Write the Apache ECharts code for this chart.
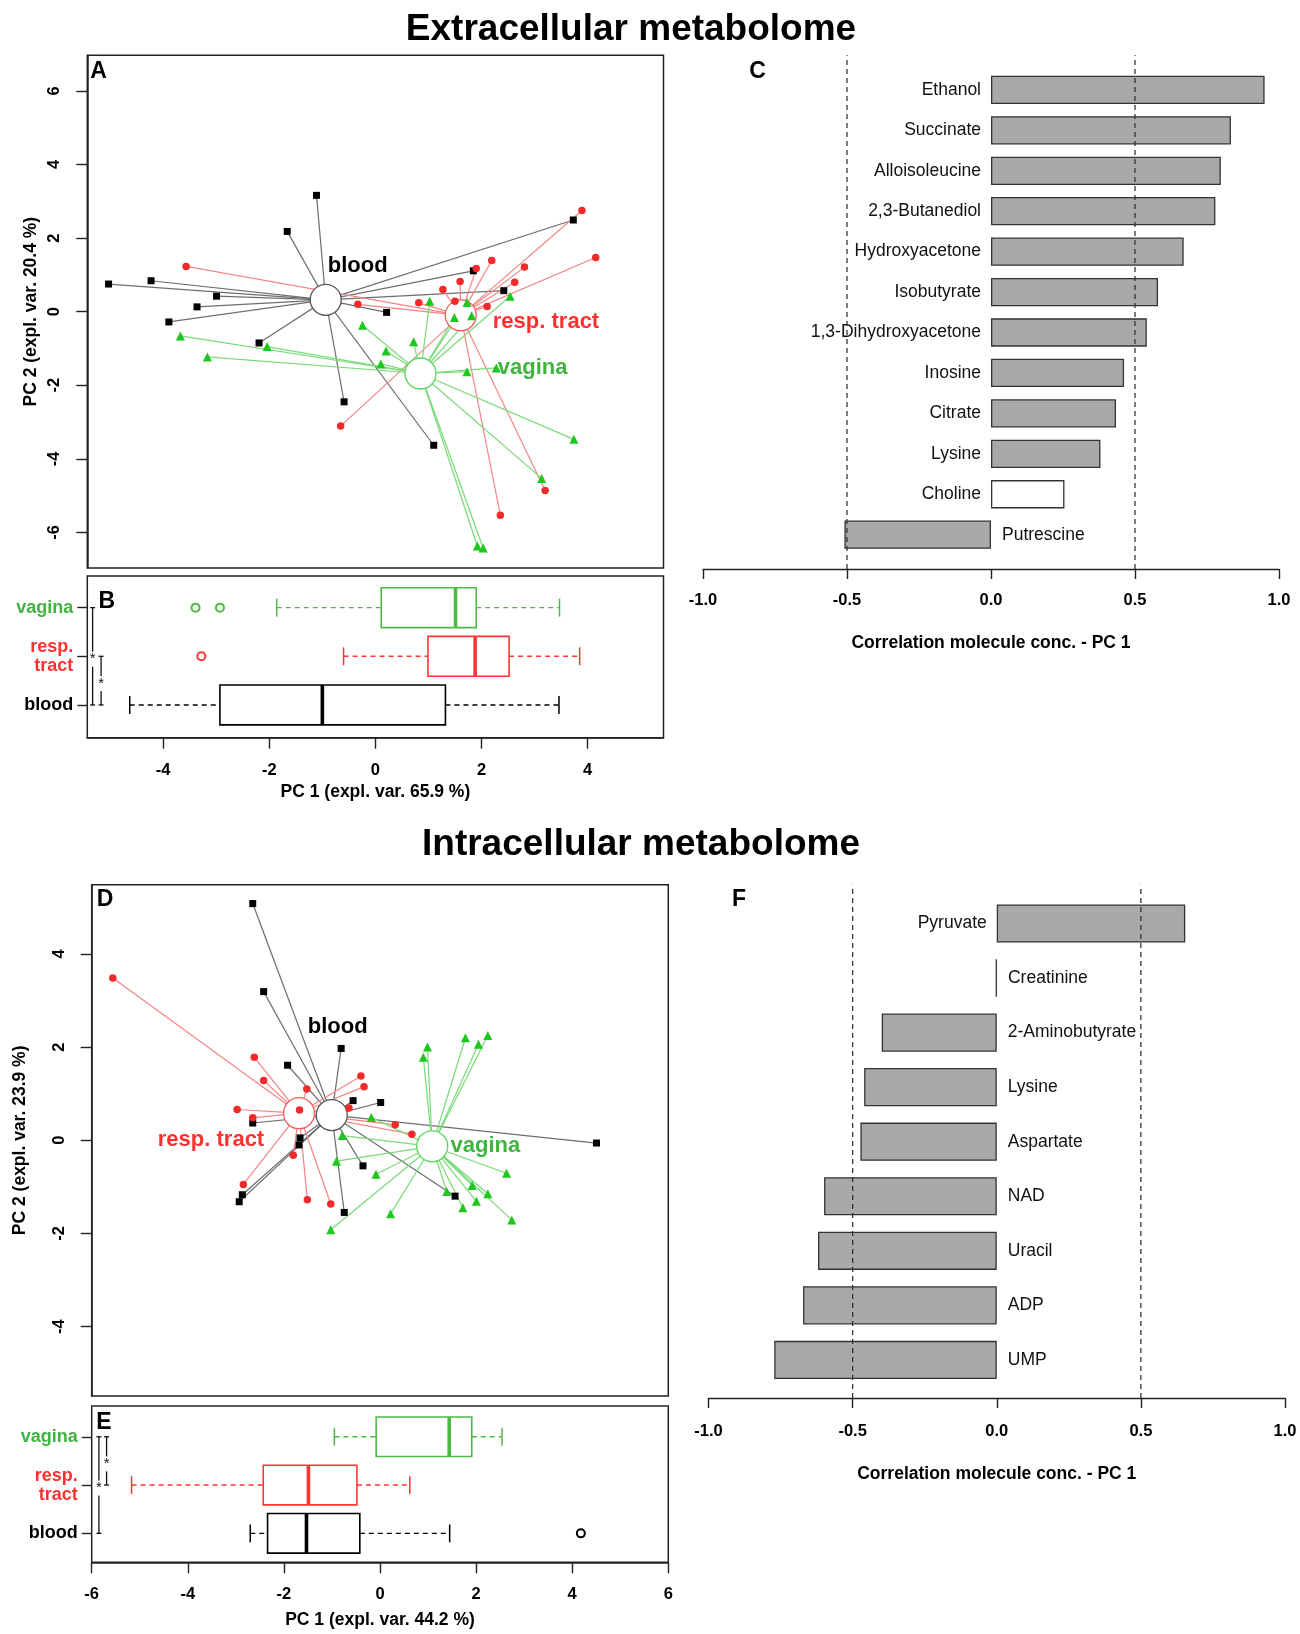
<!DOCTYPE html>
<html><head><meta charset="utf-8">
<script src="https://cdn.jsdelivr.net/npm/echarts@6/dist/echarts.min.js"></script>
<style>html,body{margin:0;padding:0;background:#fff}#c{width:1300px;height:1634px}</style>
</head><body><div id="c"></div>
<script>
// ---------- DATA ----------
const groupNames = ['blood', 'resp. tract', 'vagina'];

// Panel A: extracellular PCA scores [PC1, PC2]
const bloodA = [[-1.01,3.16],[-1.52,2.18],[3.46,2.49],[1.72,1.11],[2.25,0.57],[-4.63,0.75],[-3.89,0.84],[-2.75,0.42],[-3.09,0.13],[-3.58,-0.28],[0.21,-0.02],[-2.01,-0.85],[-0.53,-2.45],[1.03,-3.63]];
const respA = [[3.61,2.75],[3.85,1.47],[-3.28,1.23],[2.04,1.39],[1.77,1.17],[2.61,1.21],[1.49,0.82],[2.44,0.80],[1.19,0.60],[1.40,0.28],[0.77,0.24],[-0.29,0.20],[1.96,0.14],[-0.59,-3.11],[2.19,-5.53],[2.97,-4.86]];
const vaginaA = [[-3.38,-0.66],[-2.91,-1.23],[-1.87,-0.95],[-0.21,-0.37],[0.20,-1.07],[0.11,-1.42],[0.68,-0.82],[0.96,0.28],[1.39,-0.16],[1.61,0.25],[1.69,-0.11],[2.36,0.42],[1.61,-1.63],[2.12,-1.53],[3.47,-3.47],[2.91,-4.53],[1.79,-6.37],[1.89,-6.42]];
const centroidsA = [[-0.85,0.32],[1.50,-0.10],[0.80,-1.68]];

// Panel B: PC1 boxplot stats [min, Q1, median, Q3, max] for blood, resp. tract, vagina
const boxB = [[-4.63,-2.93,-1.00,1.32,3.46],[-0.60,0.99,1.88,2.52,3.85],[-1.86,0.11,1.51,1.90,3.47]];
const outliersB = [[], [-3.28], [-3.39,-2.93]];
const bracketsB = [[-5.33,2,0,1],[-5.17,1,0,0.5]]; // x, from, to, star position

// Panel C: correlation with PC1 (extracellular)
const extraNames = ['Ethanol','Succinate','Alloisoleucine','2,3-Butanediol','Hydroxyacetone','Isobutyrate','1,3-Dihydroxyacetone','Inosine','Citrate','Lysine','Choline','Putrescine'];
const extraCorr = [0.950,0.833,0.798,0.779,0.669,0.580,0.541,0.462,0.434,0.380,0.255,-0.509];
const extraSignificant = [true,true,true,true,true,true,true,true,true,true,false,true];

// Panel D: intracellular PCA scores
const bloodD = [[-2.46,5.08],[-2.25,3.19],[-0.76,1.97],[-1.79,1.61],[-0.53,0.85],[0.00,0.81],[-2.46,0.37],[-1.55,0.05],[-1.57,-0.10],[-0.34,-0.55],[1.43,-1.20],[-2.66,-1.17],[-2.72,-1.32],[-0.70,-1.55],[4.15,-0.06]];
const respD = [[-5.15,3.48],[-2.43,1.78],[-2.25,1.28],[-1.42,1.10],[-0.38,1.38],[-0.32,1.15],[-2.76,0.66],[-2.46,0.48],[-1.56,0.65],[-0.61,0.69],[0.28,0.33],[0.60,0.13],[-1.68,-0.32],[-2.64,-0.95],[-1.41,-1.28],[-0.96,-1.37]];
const vaginaD = [[0.90,2.00],[0.82,1.78],[1.63,2.20],[1.88,2.06],[2.06,2.25],[-0.18,0.49],[-0.74,0.10],[-0.85,-0.45],[-0.09,-0.73],[0.19,-1.58],[-0.96,-1.92],[1.27,-1.10],[1.58,-1.45],[1.76,-0.97],[1.84,-1.31],[2.06,-1.15],[2.42,-0.71],[2.52,-1.71]];
const centroidsD = [[-0.94,0.54],[-1.57,0.58],[0.99,-0.13]];

// Panel E
const boxE = [[-2.70,-2.34,-1.53,-0.42,1.45],[-5.17,-2.43,-1.49,-0.48,0.62],[-0.95,-0.08,1.44,1.91,2.54]];
const outliersE = [[4.18], [], []];
const bracketsE = [[-5.85,2,0,1],[-5.69,2,1,1.5]];

// Panel F
const intraNames = ['Pyruvate','Creatinine','2-Aminobutyrate','Lysine','Aspartate','NAD','Uracil','ADP','UMP'];
const intraCorr = [0.654,-0.003,-0.399,-0.460,-0.473,-0.599,-0.620,-0.672,-0.772];
const intraSignificant = [true,true,true,true,true,true,true,true,true];

const corrThresholds = [-0.5, 0.5];
const pcTicksA = [-6,-4,-2,0,2,4,6];
const pcTicksB = [-4,-2,0,2,4];
const pcTicksD = [-4,-2,0,2,4];
const pcTicksE = [-6,-4,-2,0,2,4,6];

// ---------- STYLE ----------
const FONT = "'Liberation Sans', Arial, Helvetica, sans-serif";
const AX = '#222';
const ptColor = ['#000000','#F22A2A','#1BC81B'];
const lnColor = ['#6E6E6E','#F48585','#78DA78'];
const ringColor = ['#555555','#F25A5A','#5AD85A'];
const boxColor = ['#000000','#FF3535','#4DBA45'];
const txtColor = ['#000000','#FF3030','#3FB53F'];
const symbols = ['rect','circle','triangle'];
const symSizes = [7,7.5,9];

const grids = [], xAxes = [], yAxes = [], series = [];
function addGrid(g, xa, ya) {
  const i = grids.length;
  grids.push(Object.assign({containLabel:false, show:false}, g));
  xAxes.push(Object.assign({gridIndex:i}, xa));
  yAxes.push(Object.assign({gridIndex:i}, ya));
  return i;
}
function hiddenVal(min, max) { return {type:'value', min, max, show:false, splitLine:{show:false}, axisLine:{onZero:false}}; }
const frame = {show:true, borderColor:AX, borderWidth:1.5, backgroundColor:'transparent'};
const axLine = {show:true, onZero:false, lineStyle:{color:AX, width:1.5}};

function pcYAxis(min, max, ticks, name, nameGap) {
  return {type:'value', min, max, position:'left',
    name, nameLocation:'middle', nameRotate:90, nameGap,
    nameTextStyle:{fontFamily:FONT, fontWeight:'bold', fontSize:17.5, color:'#000'},
    axisLine:axLine, splitLine:{show:false},
    axisTick:{show:true, inside:false, length:11, customValues:ticks, lineStyle:{color:AX, width:1.4}},
    axisLabel:{show:true, rotate:90, margin:24, customValues:ticks, fontFamily:FONT, fontWeight:'bold', fontSize:16.5, color:'#000',
      formatter: v => String(v)}};
}
function pcXAxis(min, max, ticks, name, margin, nameGap) {
  return {type:'value', min, max, position:'bottom',
    name, nameLocation:'middle', nameGap,
    nameTextStyle:{fontFamily:FONT, fontWeight:'bold', fontSize:17.5, color:'#000'},
    axisLine:axLine, splitLine:{show:false},
    axisTick:{show:true, inside:false, length:11, customValues:ticks, lineStyle:{color:AX, width:1.4}},
    axisLabel:{show:true, margin, customValues:ticks, fontFamily:FONT, fontWeight:'bold', fontSize:16.5, color:'#000',
      formatter: v => String(v)}};
}
function catAxis() {
  return {type:'category', data:groupNames, position:'left',
    axisLine:{show:false, onZero:false}, splitLine:{show:false},
    axisTick:{show:true, alignWithLabel:true, inside:false, length:10, lineStyle:{color:AX, width:1.4}},
    axisLabel:{margin:14, fontFamily:FONT, fontWeight:'bold', fontSize:18, lineHeight:19,
      color:(v, i) => txtColor[i], formatter: v => v.replace(' ', '\n')}};
}
function corrXAxis(name, margin, nameGap) {
  return {type:'value', min:-1, max:1, interval:0.5, position:'bottom',
    name, nameLocation:'middle', nameGap,
    nameTextStyle:{fontFamily:FONT, fontWeight:'bold', fontSize:17.5, color:'#000'},
    axisLine:{show:true, onZero:false, lineStyle:{color:AX, width:1.4}}, splitLine:{show:false},
    axisTick:{show:true, inside:false, length:10, lineStyle:{color:AX, width:1.4}},
    axisLabel:{margin, fontFamily:FONT, fontWeight:'bold', fontSize:16.5, color:'#000', formatter: v => v.toFixed(1)}};
}

function addScatterPanel(gi, groupsData, centroids) {
  const seg = [];
  groupsData.forEach((arr, g) => arr.forEach(p => seg.push([p[0], p[1], g])));
  series.push({type:'custom', xAxisIndex:gi, yAxisIndex:gi, data:seg, encode:{x:0, y:1}, z:1, silent:true,
    renderItem:(params, api) => {
      const g = api.value(2);
      const p = api.coord([api.value(0), api.value(1)]);
      const c = api.coord(centroids[g]);
      return {type:'line', shape:{x1:p[0], y1:p[1], x2:c[0], y2:c[1]}, style:{stroke:lnColor[g], lineWidth:1.2}};
    }});
  series.push({type:'scatter', xAxisIndex:gi, yAxisIndex:gi, z:2, silent:true, symbol:'circle', symbolSize:31,
    data: centroids.map((c, g) => ({value:c, itemStyle:{color:'#fff', opacity:1, borderColor:ringColor[g], borderWidth:1.3}}))});
  groupsData.forEach((arr, g) => {
    series.push({type:'scatter', xAxisIndex:gi, yAxisIndex:gi, z:3, silent:true, symbol:symbols[g], symbolSize:symSizes[g],
      itemStyle:{color:ptColor[g], opacity:1}, data:arr});
  });
}

function addBoxPanel(gi, stats, outliers, brackets) {
  series.push({type:'custom', xAxisIndex:gi, yAxisIndex:gi, silent:true, z:2,
    data: stats.map((s, i) => [i].concat(s)), encode:{x:[1,2,3,4,5], y:0},
    renderItem:(params, api) => {
      const cat = api.value(0);
      const yc = api.coord([0, cat])[1];
      const band = api.size([0, 1])[1];
      const h = band * 0.41, s = h * 0.45;
      const xs = [1,2,3,4,5].map(k => api.coord([api.value(k), cat])[0]);
      const c = boxColor[cat];
      const dashed = {stroke:c, lineWidth:1.4, lineDash:[5,4]};
      const solid = {stroke:c, lineWidth:1.5};
      return {type:'group', children:[
        {type:'line', shape:{x1:xs[0], y1:yc, x2:xs[1], y2:yc}, style:dashed},
        {type:'line', shape:{x1:xs[3], y1:yc, x2:xs[4], y2:yc}, style:dashed},
        {type:'line', shape:{x1:xs[0], y1:yc-s, x2:xs[0], y2:yc+s}, style:solid},
        {type:'line', shape:{x1:xs[4], y1:yc-s, x2:xs[4], y2:yc+s}, style:solid},
        {type:'rect', shape:{x:xs[1], y:yc-h, width:xs[3]-xs[1], height:2*h}, style:{stroke:c, fill:'rgba(255,255,255,0)', lineWidth:1.6}},
        {type:'line', shape:{x1:xs[2], y1:yc-h, x2:xs[2], y2:yc+h}, style:{stroke:c, lineWidth:3.6}}
      ]};
    }});
  outliers.forEach((arr, g) => {
    if (!arr.length) return;
    series.push({type:'scatter', xAxisIndex:gi, yAxisIndex:gi, z:3, silent:true, symbol:'emptyCircle', symbolSize:8,
      itemStyle:{color:boxColor[g], borderColor:boxColor[g], borderWidth:1.4, opacity:1}, data:arr.map(v => [v, g])});
  });
  series.push({type:'custom', xAxisIndex:gi, yAxisIndex:gi, silent:true, z:4,
    data:brackets, encode:{x:0, y:1},
    renderItem:(params, api) => {
      const x = api.coord([api.value(0), 0])[0];
      const y0 = api.coord([0, 0])[1], y1 = api.coord([0, 1])[1];
      const py = c => y0 + c * (y1 - y0);
      const ya = py(api.value(1)), yb = py(api.value(2)), ys = py(api.value(3));
      const st = {stroke:'#111', lineWidth:1.3};
      return {type:'group', children:[
        {type:'line', shape:{x1:x, y1:ya, x2:x, y2:yb}, style:st},
        {type:'line', shape:{x1:x-2.5, y1:ya, x2:x+2.5, y2:ya}, style:st},
        {type:'line', shape:{x1:x-2.5, y1:yb, x2:x+2.5, y2:yb}, style:st},
        {type:'text', x:x, y:ys+3, style:{text:'*', fill:'#111', font:'15px ' + FONT, align:'center', verticalAlign:'middle', textAlign:'center', textVerticalAlign:'middle', backgroundColor:'#fff'}}
      ]};
    }});
}

function addBarPanel(giBars, giLines, values, significant) {
  series.push({type:'bar', xAxisIndex:giBars, yAxisIndex:giBars, barWidth:'70%', silent:true, z:2,
    data: values.map((v, i) => ({value:v,
      itemStyle:{color: significant[i] ? '#A9A9A9' : '#FFFFFF', borderColor:'#333', borderWidth:1.3},
      label:{show:true, formatter:'{b}', position: v >= 0 ? 'left' : 'right', distance: v >= 0 ? 10 : 11,
        color:'#111', fontFamily:FONT, fontSize:17.5}}))});
  corrThresholds.forEach(t => {
    series.push({type:'line', xAxisIndex:giLines, yAxisIndex:giLines, silent:true, z:3, symbol:'none',
      lineStyle:{color:'#333', width:1.3, type:[5,4]}, data:[[t, 0], [t, 1]]});
  });
}

// ---------- LAYOUT ----------
// A
const gA = addGrid(Object.assign({left:87.3, top:55.3, width:576.2, height:512.7}, frame),
  hiddenVal(-5.0, 5.03), pcYAxis(-6.965, 6.965, pcTicksA, 'PC 2 (expl. var. 20.4 %)', 47));
addScatterPanel(gA, [bloodA, respA, vaginaA], centroidsA);
// B
addGrid(Object.assign({left:87.3, top:576, width:576.2, height:161.7}, frame),
  pcXAxis(-5.43, 5.43, pcTicksB, 'PC 1 (expl. var. 65.9 %)', 24, 45), hiddenVal(0, 1));
const gB = addGrid({left:87.3, top:583.3, width:576.2, height:146}, hiddenVal(-5.43, 5.43), catAxis());
addBoxPanel(gB, boxB, outliersB, bracketsB);
// C
const gCb = addGrid({left:703, top:69.7, width:576, height:485.2}, hiddenVal(-1, 1),
  {type:'category', data:extraNames, inverse:true, show:false, axisLine:{onZero:false}});
const gCl = addGrid({left:703, top:55.3, width:576, height:513.7},
  corrXAxis('Correlation molecule conc. - PC 1', 23, 65), hiddenVal(0, 1));
addBarPanel(gCb, gCl, extraCorr, extraSignificant);
// D
const gD = addGrid(Object.assign({left:91.7, top:884.7, width:576.6, height:511.3}, frame),
  hiddenVal(-5.556, 5.53), pcYAxis(-5.49, 5.485, pcTicksD, 'PC 2 (expl. var. 23.9 %)', 63));
addScatterPanel(gD, [bloodD, respD, vaginaD], centroidsD);
// E
addGrid(Object.assign({left:91.7, top:1406, width:576.6, height:156.3}, frame),
  pcXAxis(-6, 6, pcTicksE, 'PC 1 (expl. var. 44.2 %)', 23.5, 49), hiddenVal(0, 1));
const gE = addGrid({left:91.7, top:1412.6, width:576.6, height:144.9}, hiddenVal(-6, 6), catAxis());
addBoxPanel(gE, boxE, outliersE, bracketsE);
// F
const gFb = addGrid({left:708.5, top:896.2, width:576.5, height:491}, hiddenVal(-1, 1),
  {type:'category', data:intraNames, inverse:true, show:false, axisLine:{onZero:false}});
const gFl = addGrid({left:708.5, top:884.7, width:576.5, height:513.3},
  corrXAxis('Correlation molecule conc. - PC 1', 25, 67), hiddenVal(0, 1));
addBarPanel(gFb, gFl, intraCorr, intraSignificant);

function txt(x, y, text, font, fill) {
  return {type:'text', x, y, silent:true, z:100,
    style:{text, font, fill: fill || '#000', align:'center', verticalAlign:'middle', textAlign:'center', textVerticalAlign:'middle'}};
}
const titleFont = 'bold 37px ' + FONT;
const letterFont = 'bold 23px ' + FONT;
const grpFont = 'bold 22px ' + FONT;
const graphic = [
  txt(631, 29.5, 'Extracellular metabolome', titleFont),
  txt(641, 844.5, 'Intracellular metabolome', titleFont),
  txt(98.5, 71.7, 'A', letterFont), txt(106.7, 601.7, 'B', letterFont), txt(757.5, 71.7, 'C', letterFont),
  txt(105, 900, 'D', letterFont), txt(104, 1422.5, 'E', letterFont), txt(739, 900, 'F', letterFont),
  txt(357.7, 266, 'blood', grpFont, txtColor[0]),
  txt(546, 321.8, 'resp. tract', grpFont, txtColor[1]),
  txt(532.7, 367.5, 'vagina', grpFont, txtColor[2]),
  txt(337.7, 1026.9, 'blood', grpFont, txtColor[0]),
  txt(211, 1140.3, 'resp. tract', grpFont, txtColor[1]),
  txt(485.4, 1145.5, 'vagina', grpFont, txtColor[2])
];

const chart = echarts.init(document.getElementById('c'), null, {renderer:'canvas'});
chart.setOption({
  backgroundColor:'#ffffff', animation:false,
  textStyle:{fontFamily:FONT},
  grid:grids, xAxis:xAxes, yAxis:yAxes, series, graphic
});
</script></body></html>
